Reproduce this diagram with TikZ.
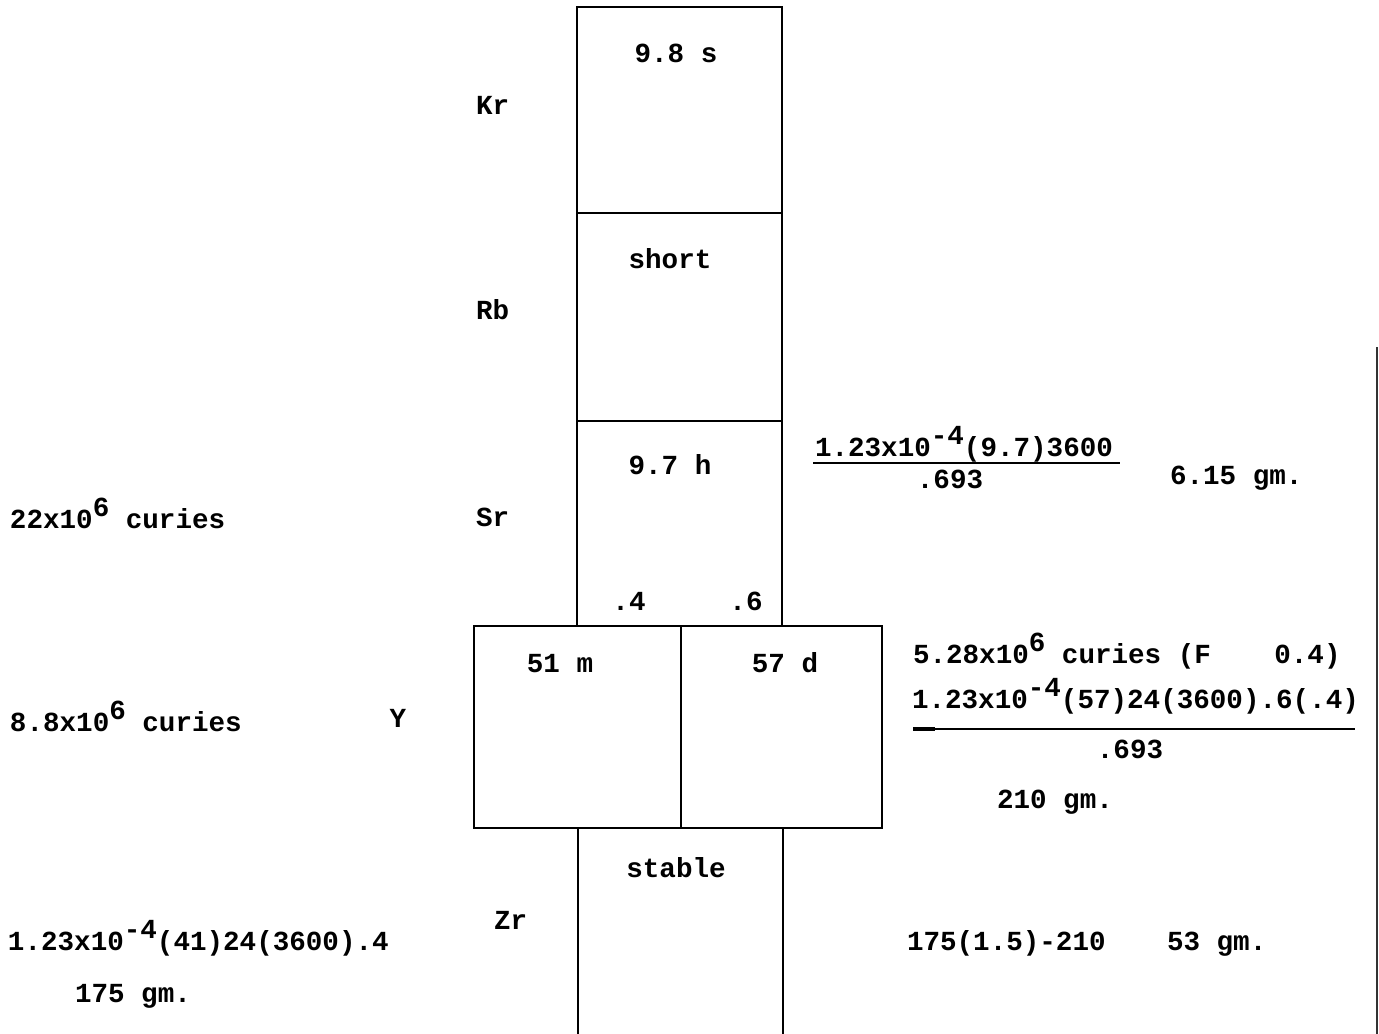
\documentclass[tikz,border=0pt]{standalone}
\usepackage{fontspec}
\setmainfont{Liberation Mono}
\newcommand{\up}[1]{\raisebox{0.4em}{#1}}
\begin{document}
\begin{tikzpicture}[x=0.02cm,y=-0.02cm,
  every node/.style={inner sep=0pt, outer sep=0pt, font=\fontsize{15.7pt}{19pt}\selectfont\bfseries},
  box/.style={draw, line width=1.2pt},
  ctr/.style={anchor=base},
  lft/.style={anchor=base west},
  fracline/.style={line width=1.3pt}]
\fill[white] (0,0) rectangle (1379,1034);
\useasboundingbox (0,0) rectangle (1379,1034);
% column boxes
\draw[box] (577,7) rectangle (782,213);
\draw[box] (577,213) rectangle (782,421);
\draw[box] (577,421) rectangle (782,626);
\draw[box] (474,626) rectangle (882,828);
\draw[box] (681,626) -- (681,828);
\draw[box] (578,1034) -- (578,828);
\draw[box] (783,828) -- (783,1034);
% page edge
\draw[line width=1pt, black!80] (1377,347) -- (1377,1034);
% box texts
\node[ctr] (kr-t) at (676,63) {9.8 s};
\node[ctr] (rb-t) at (670,268) {short};
\node[ctr] (sr-t) at (670,474) {9.7 h};
\node[ctr] (br1) at (629,610) {.4};
\node[ctr] (br2) at (746,610) {.6};
\node[ctr] (y1) at (560,672) {51 m};
\node[ctr] (y2) at (785,672) {57 d};
\node[ctr] (zr-t) at (676,877) {stable};
% element labels
\node[lft] (kr) at (476,114) {Kr};
\node[lft] (rb) at (476,319) {Rb};
\node[lft] (sr) at (476,526) {Sr};
\node[ctr] (y) at (398,727) {Y};
\node[lft] (zr) at (494,929) {Zr};
% left column
\node[lft] (c1) at (10,528) {22x10\up{6} curies};
\node[lft] (c2) at (10,731) {8.8x10\up{6} curies};
\node[lft] (c3) at (8,950) {1.23x10\up{-4}(41)24(3600).4};
\node[lft] (c4) at (75,1002) {175 gm.};
% right column: Sr
\node[lft] (n1) at (815,456) {1.23x10\up{-4}(9.7)3600};
\draw[fracline] (813,463) -- (1120,463);
\node[ctr] (d1) at (950,488) {.693};
\node[lft] (g1) at (1170,484) {6.15 gm.};
% right column: Y
\node[lft] (r1) at (913,663) {5.28x10\up{6} curies (F\hspace{2.3em}0.4)};
\node[lft] (n2) at (912,708) {1.23x10\up{-4}(57)24(3600).6(.4)};
\draw[fracline] (913,729) -- (1355,729);
\draw[line width=2.5pt] (913,729) -- (935,729);
\node[ctr] (d2) at (1130,758) {.693};
\node[lft] (g2) at (997,808) {210 gm.};
% right column: Zr
\node[lft] (r3) at (907,950) {175(1.5)-210};
\node[lft] (g3) at (1167,950) {53 gm.};
\end{tikzpicture}
\end{document}
